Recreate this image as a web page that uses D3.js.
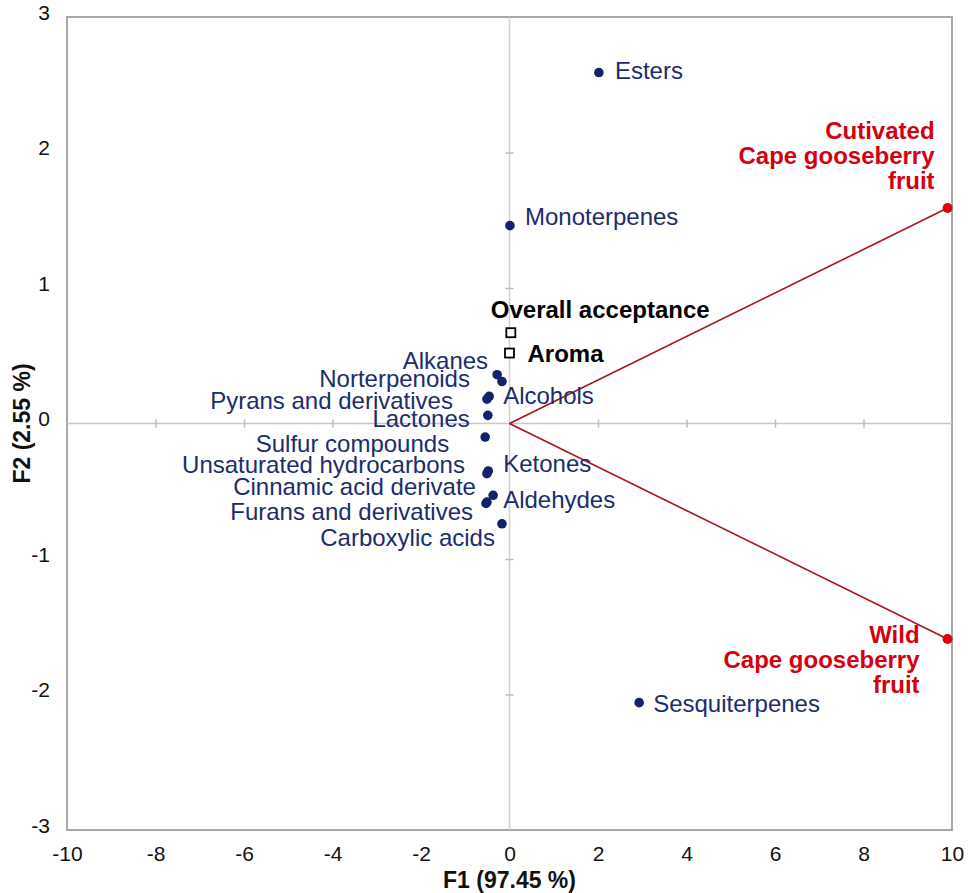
<!DOCTYPE html>
<html>
<head>
<meta charset="utf-8">
<script src="https://cdn.jsdelivr.net/npm/d3@7"></script>
<style>
  html, body { margin: 0; padding: 0; background: #fff; }
  svg { display: block; font-family: "Liberation Sans", Arial, Helvetica, sans-serif; }
</style>
</head>
<body>
<svg id="chart" width="978" height="893"></svg>
<script>
// ---- data ----
const compoundNames = ["Esters", "Monoterpenes", "Alkanes", "Norterpenoids", "Pyrans and derivatives", "Alcohols",
  "Lactones", "Sulfur compounds", "Unsaturated hydrocarbons", "Ketones", "Cinnamic acid derivate",
  "Aldehydes", "Furans and derivatives", "Carboxylic acids", "Sesquiterpenes"];
const compoundF1 = [2.02, 0.01, -0.28, -0.17, -0.51, -0.46, -0.49, -0.55, -0.51, -0.48, -0.51, -0.37, -0.53, -0.17, 2.93];
const compoundF2 = [2.59, 1.46, 0.36, 0.31, 0.18, 0.20, 0.06, -0.10, -0.37, -0.35, -0.58, -0.53, -0.59, -0.74, -2.06];

const sensoryNames = ["Overall acceptance", "Aroma"];
const sensoryF1 = [0.03, 0.0];
const sensoryF2 = [0.67, 0.52];

const sampleNames = [["Cutivated", "Cape gooseberry", "fruit"], ["Wild", "Cape gooseberry", "fruit"]];
const sampleF1 = [9.9, 9.9];
const sampleF2 = [1.59, -1.59];

const xTicks = [-10, -8, -6, -4, -2, 0, 2, 4, 6, 8, 10];
const yTicks = [-3, -2, -1, 0, 1, 2, 3];
const xTitle = "F1 (97.45 %)";
const yTitle = "F2 (2.55 %)";

// ---- label placement (pixel offsets, style only) ----
const compoundLabelPos = [
  {dx: 16, dy: -2, anchor: "start"},
  {dx: 15, dy: -9, anchor: "start"},
  {dx: -9, dy: -14, anchor: "end"},
  {dx: -32, dy: -3, anchor: "end"},
  {dx: -34, dy: 1, anchor: "end"},
  {dx: 14, dy: -1, anchor: "start"},
  {dx: -18, dy: 3, anchor: "end"},
  {dx: -36, dy: 6, anchor: "end"},
  {dx: -22, dy: -9, anchor: "end"},
  {dx: 15, dy: -8, anchor: "start"},
  {dx: -11, dy: -16, anchor: "end"},
  {dx: 10, dy: 4, anchor: "start"},
  {dx: -13, dy: 8, anchor: "end"},
  {dx: -7, dy: 14, anchor: "end"},
  {dx: 14, dy: 1, anchor: "start"}
];
const sensoryLabelPos = [
  {dx: -20, dy: -23, anchor: "start"},
  {dx: 18, dy: 0, anchor: "start"}
];
const sampleLabelPos = [
  {dx: -13, dy: -69, anchor: "end"},
  {dx: -28, dy: 4, anchor: "end"}
];

// ---- chart ----
const svg = d3.select("#chart");
const margin = {left: 67, right: 26, top: 17, bottom: 63};
const W = 978, H = 893;
const x = d3.scaleLinear().domain([-10, 10]).range([margin.left, W - margin.right]);
const y = d3.scaleLinear().domain([-3, 3]).range([H - margin.bottom, margin.top]);

const navy = "#13226b";
const navyText = "#1c2c6e";
const red = "#e0000f";
const redLine = "#a8141c";
const fmt = d => String(d);

// frame
svg.append("rect")
  .attr("x", x(-10)).attr("y", y(3))
  .attr("width", x(10) - x(-10)).attr("height", y(-3) - y(3))
  .attr("fill", "none").attr("stroke", "#a9a9a9").attr("stroke-width", 2);

// zero lines with ticks
const g0 = svg.append("g");
g0.append("line").attr("x1", x(-10)).attr("x2", x(10)).attr("y1", y(0)).attr("y2", y(0))
  .attr("stroke", "#c8c8c8").attr("stroke-width", 1.5);
g0.append("line").attr("x1", x(0)).attr("x2", x(0)).attr("y1", y(3)).attr("y2", y(-3))
  .attr("stroke", "#d0d0d0").attr("stroke-width", 1.5);

const xAxisZero = d3.axisBottom(x).tickValues(xTicks.filter(d => d !== 0 && Math.abs(d) !== 10))
  .tickSizeInner(0).tickSizeOuter(0).tickFormat("");
const xz = svg.append("g").attr("transform", `translate(0,${y(0)})`).call(xAxisZero);
xz.select(".domain").remove();
xz.selectAll(".tick line").attr("y1", -4).attr("y2", 4).attr("stroke", "#bdbdbd").attr("stroke-width", 1.5);

const yAxisZero = d3.axisLeft(y).tickValues(yTicks.filter(d => d !== 0 && Math.abs(d) !== 3))
  .tickSizeInner(0).tickSizeOuter(0).tickFormat("");
const yz = svg.append("g").attr("transform", `translate(${x(0)},0)`).call(yAxisZero);
yz.select(".domain").remove();
yz.selectAll(".tick line").attr("x1", -4).attr("x2", 4).attr("stroke", "#bdbdbd").attr("stroke-width", 1.5);

// tick labels
const xAxis = d3.axisBottom(x).tickValues(xTicks).tickSize(0).tickPadding(16).tickFormat(fmt);
const xa = svg.append("g").attr("transform", `translate(0,${y(-3)})`).call(xAxis);
xa.select(".domain").remove();
xa.selectAll("text").attr("font-size", 21).attr("fill", "#111").attr("font-family", "Liberation Sans, Arial, sans-serif");

const yAxis = d3.axisLeft(y).tickValues(yTicks).tickSize(0).tickPadding(17).tickFormat(fmt);
const ya = svg.append("g").attr("transform", `translate(${x(-10)},0)`).call(yAxis);
ya.select(".domain").remove();
ya.selectAll("text").attr("font-size", 21).attr("fill", "#111").attr("font-family", "Liberation Sans, Arial, sans-serif")
  .attr("dy", "0.1em");

// axis titles
svg.append("text").attr("x", x(0)).attr("y", 888).attr("text-anchor", "middle")
  .attr("font-size", 23).attr("font-weight", "bold").attr("fill", "#111").text(xTitle);
svg.append("text").attr("transform", `translate(30,${y(0)}) rotate(-90)`).attr("text-anchor", "middle")
  .attr("font-size", 23).attr("font-weight", "bold").attr("fill", "#111").text(yTitle);

// sample vectors
const samples = sampleNames.map((n, i) => ({name: n, f1: sampleF1[i], f2: sampleF2[i], pos: sampleLabelPos[i]}));
svg.append("g").selectAll("line").data(samples).join("line")
  .attr("x1", x(0)).attr("y1", y(0)).attr("x2", d => x(d.f1)).attr("y2", d => y(d.f2))
  .attr("stroke", redLine).attr("stroke-width", 1.6);
svg.append("g").selectAll("circle").data(samples).join("circle")
  .attr("cx", d => x(d.f1)).attr("cy", d => y(d.f2)).attr("r", 5).attr("fill", red);
samples.forEach(d => {
  const t = svg.append("text").attr("text-anchor", d.pos.anchor)
    .attr("font-size", 24).attr("font-weight", "bold").attr("fill", "#d4000f");
  d.name.forEach((line, j) => {
    t.append("tspan").attr("x", x(d.f1) + d.pos.dx).attr("y", y(d.f2) + d.pos.dy + j * 25).text(line);
  });
});

// compounds
const compounds = compoundNames.map((n, i) => ({name: n, f1: compoundF1[i], f2: compoundF2[i], pos: compoundLabelPos[i]}));
svg.append("g").selectAll("circle").data(compounds).join("circle")
  .attr("cx", d => x(d.f1)).attr("cy", d => y(d.f2)).attr("r", 4.8).attr("fill", navy);
svg.append("g").selectAll("text").data(compounds).join("text")
  .attr("x", d => x(d.f1) + d.pos.dx).attr("y", d => y(d.f2) + d.pos.dy)
  .attr("dy", "0.36em").attr("text-anchor", d => d.pos.anchor)
  .attr("font-size", 24).attr("fill", navyText).text(d => d.name);

// sensory
const sensory = sensoryNames.map((n, i) => ({name: n, f1: sensoryF1[i], f2: sensoryF2[i], pos: sensoryLabelPos[i]}));
svg.append("g").selectAll("rect").data(sensory).join("rect")
  .attr("x", d => x(d.f1) - 4.5).attr("y", d => y(d.f2) - 4.5).attr("width", 9).attr("height", 9)
  .attr("fill", "#fff").attr("stroke", "#000").attr("stroke-width", 1.8);
svg.append("g").selectAll("text").data(sensory).join("text")
  .attr("x", d => x(d.f1) + d.pos.dx).attr("y", d => y(d.f2) + d.pos.dy)
  .attr("dy", "0.36em").attr("text-anchor", d => d.pos.anchor)
  .attr("font-size", 24).attr("font-weight", "bold").attr("fill", "#000").text(d => d.name);
</script>
</body>
</html>
